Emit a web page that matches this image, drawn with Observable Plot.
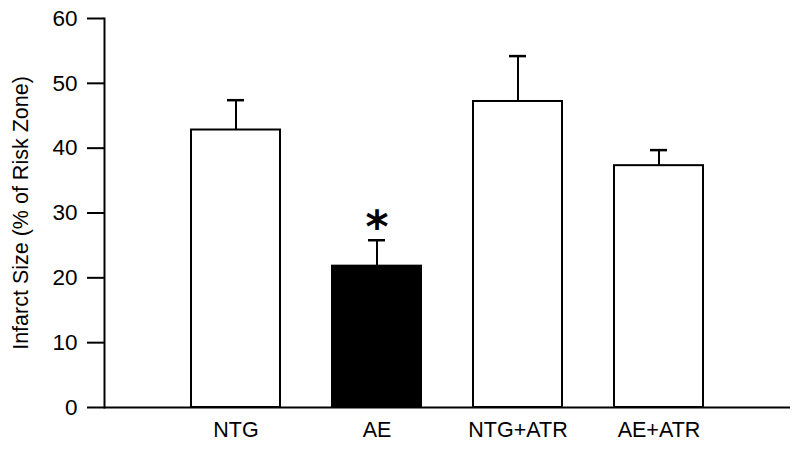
<!DOCTYPE html>
<html>
<head>
<meta charset="utf-8">
<script src="https://cdn.jsdelivr.net/npm/d3@7"></script>
<script src="https://cdn.jsdelivr.net/npm/@observablehq/plot@0.6"></script>
<style>
  html, body { margin: 0; padding: 0; background: #fff; }
  svg { display: block; }
</style>
</head>
<body>
<div id="chart"></div>
<script>
const groups = ["NTG", "AE", "NTG+ATR", "AE+ATR"];
const means = [42.8, 21.8, 47.2, 37.3];
const errors = [4.6, 4.0, 7.0, 2.4];
const fills = ["white", "black", "white", "white"];
const marks = ["", "*", "", ""];
const yTicks = [0, 10, 20, 30, 40, 50, 60];

const data = groups.map((g, i) => ({
  group: g, mean: means[i], top: means[i] + errors[i], fill: fills[i], mark: marks[i]
}));

const chart = Plot.plot({
  width: 800,
  height: 450,
  marginLeft: 104,
  marginRight: 10,
  marginTop: 18,
  marginBottom: 43,
  style: { fontFamily: "'Liberation Sans', Arial, sans-serif", color: "black", background: "white" },
  x: { domain: groups, paddingInner: 0.37, paddingOuter: 0.617 },
  y: { domain: [0, 60] },
  marks: [
    Plot.axisY({ ticks: yTicks, tickSize: 17, tickPadding: 10, fontSize: 22.5, strokeWidth: 2, label: null }),
    Plot.axisY({ ticks: [], fontSize: 21.5, label: "Infarct Size (% of Risk Zone)", labelAnchor: "center", labelArrow: "none", labelOffset: 92 }),
    Plot.axisX({ tickSize: 0, tickPadding: 14, fontSize: 21.5, label: null }),
    Plot.ruleX(data, { x: "group", y1: "mean", y2: "top", stroke: "black", strokeWidth: 2 }),
    Plot.tickY(data, { x: "group", y: "top", stroke: "black", strokeWidth: 2.5, insetLeft: 36, insetRight: 36 }),
    Plot.barY(data, { x: "group", y: "mean", fill: "fill", stroke: "black", strokeWidth: 2 }),
    Plot.text(data, { x: "group", y: "top", text: "mark", dy: -12, fontSize: 44, fontWeight: "bold", fill: "black", fontFamily: "'DejaVu Sans', sans-serif" }),
    Plot.ruleY([0], { stroke: "black", strokeWidth: 2 }),
    Plot.frame({ anchor: "left", stroke: "black", strokeWidth: 2 })
  ]
});
document.getElementById("chart").appendChild(chart);
</script>
</body>
</html>
